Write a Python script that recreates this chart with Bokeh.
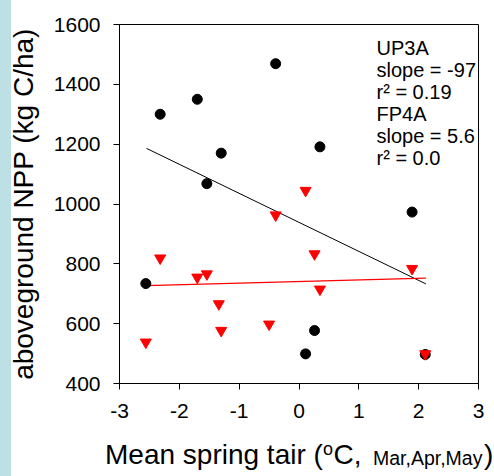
from bokeh.plotting import figure
from bokeh.models import Range1d, FixedTicker, Label, ColumnDataSource, Div
from bokeh.layouts import column
from bokeh.embed import file_html
from bokeh.resources import INLINE

# ---- data ----
up3a_x = [-2.56, -2.32, -1.70, -1.54, -1.30, -0.39, 0.35, 0.11, 0.26, 1.89, 2.11]
up3a_y = [734, 1300, 1350, 1068, 1170, 1469, 1191, 499, 577, 973, 497]

fp4a_x = [-2.56, -2.32, -1.70, -1.54, -1.34, -1.30, -0.50, -0.39, 0.11, 0.26, 0.35, 1.89, 2.11]
fp4a_y = [538, 819, 755, 766, 666, 577, 598, 963, 1045, 833, 715, 784, 499]

up3a_fit_x = [-2.55, 2.12]
up3a_fit_y = [1186, 733]
fp4a_fit_x = [-2.55, 2.12]
fp4a_fit_y = [727, 752]

x_ticks = [-3, -2, -1, 0, 1, 2, 3]
x_tick_labels = ["-3", "-2", "-1", "0", "1", "2", "3"]
y_ticks = [400, 600, 800, 1000, 1200, 1400, 1600]

annotation_lines = ["UP3A", "slope = -97", "r\u00b2 = 0.19", "FP4A", "slope = 5.6", "r\u00b2 = 0.0"]

y_title = "aboveground NPP (kg C/ha)"
x_title_parts = ["Mean spring tair (", "o", "C,", "Mar,Apr,May", ")"]

FONT = "Liberation Sans"
STRIPE = "linear-gradient(to right, #bde0e4 11px, #ffffff 11px)"

W = 494
FIG_H = 430
DIV_H = 476 - FIG_H
L, R, T, B = 119, 16, 24, 47
XMIN, XMAX, YMIN, YMAX = -3, 3, 400, 1600
FW = W - L - R
FH = FIG_H - T - B


def px_x(px):
    return XMIN + (px - L) * (XMAX - XMIN) / FW


def px_y(py):
    return YMIN + (FIG_H - B - py) * (YMAX - YMIN) / FH


p = figure(width=W, height=FIG_H, x_range=Range1d(XMIN, XMAX), y_range=Range1d(YMIN, YMAX),
           output_backend="svg", toolbar_location=None,
           min_border_left=L, min_border_right=R, min_border_top=T, min_border_bottom=B)
p.styles = {"background": STRIPE}
p.border_fill_color = None
p.background_fill_color = "white"
p.outline_line_color = "black"
p.outline_line_width = 1
p.xgrid.visible = False
p.ygrid.visible = False

for ax in (p.xaxis[0], p.yaxis[0]):
    ax.axis_line_color = "black"
    ax.major_tick_line_color = "black"
    ax.major_tick_in = 0
    ax.major_tick_out = 6
    ax.minor_tick_line_color = None
    ax.major_label_text_font = FONT
    ax.major_label_text_font_size = "21px"
    ax.major_label_text_color = "black"

p.xaxis.ticker = FixedTicker(ticks=x_ticks)
p.xaxis.major_label_overrides = {t: s for t, s in zip(x_ticks, x_tick_labels)}
p.yaxis.ticker = FixedTicker(ticks=y_ticks)
p.xaxis.major_label_standoff = 14
p.yaxis.major_label_standoff = 13

p.yaxis.axis_label = y_title
p.yaxis.axis_label_text_font = FONT
p.yaxis.axis_label_text_font_size = "28px"
p.yaxis.axis_label_text_font_style = "normal"
p.yaxis.axis_label_text_color = "black"
p.yaxis.axis_label_standoff = 12

# regression lines
p.line(up3a_fit_x, up3a_fit_y, line_color="black", line_width=1)
p.line(fp4a_fit_x, fp4a_fit_y, line_color="red", line_width=1.3)

# points
p.scatter(x="x", y="y", source=ColumnDataSource(dict(x=up3a_x, y=up3a_y)),
          marker="circle", size=10, fill_color="black", line_color="black")
p.scatter(x="x", y="y", source=ColumnDataSource(dict(x=fp4a_x, y=fp4a_y)),
          marker="inverted_triangle", size=11, fill_color="red", line_color="red")

# annotation block
for i, line in enumerate(annotation_lines):
    p.add_layout(Label(x=px_x(376), y=px_y(47 + 22 * i), text=line,
                       text_font=FONT, text_font_size="20px", text_color="black",
                       text_baseline="alphabetic", text_align="left"))

# x-axis title built from pieces (superscript and small month text), as HTML text
piece_left = [105, 323, 333.5, 373, 484]
piece_base = [35, 25, 35, 35, 35]          # baseline within the title strip
piece_size = [28, 18, 28, 19.5, 28]
spans = []
for txt, lx, by, fs in zip(x_title_parts, piece_left, piece_base, piece_size):
    top = by - 0.8465 * fs
    spans.append(
        f'<span style="position:absolute;left:{lx}px;top:{top:.1f}px;'
        f'font-family:\'{FONT}\';font-size:{fs}px;line-height:{fs}px;'
        f'white-space:nowrap;color:black;">{txt}</span>'
    )
html = (f'<div style="position:relative;width:{W}px;height:{DIV_H}px;">'
        + "".join(spans) + '</div>')
xtitle = Div(text=html, width=W, height=DIV_H, margin=0,
             styles={"background": STRIPE})

layout = column(p, xtitle, spacing=0)

open("out.html", "w").write(file_html(layout, INLINE))
